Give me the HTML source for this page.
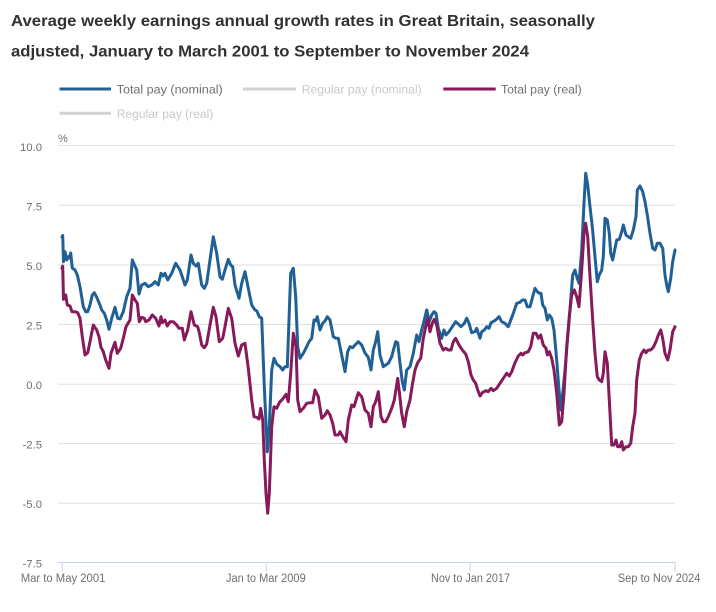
<!DOCTYPE html>
<html>
<head>
<meta charset="utf-8">
<style>
html,body{margin:0;padding:0;background:#fff;}
svg{display:block;}
text{font-family:"Liberation Sans",Arial,sans-serif;}
</style>
</head>
<body>
<svg width="716" height="612" viewBox="0 0 716 612" xmlns="http://www.w3.org/2000/svg">
<rect width="716" height="612" fill="#fff"/>
<!-- Title -->
<text x="11" y="26" font-size="15.5" font-weight="bold" fill="#323132" textLength="584" lengthAdjust="spacingAndGlyphs">Average weekly earnings annual growth rates in Great Britain, seasonally</text>
<text x="11" y="56.5" font-size="15.5" font-weight="bold" fill="#323132" textLength="518" lengthAdjust="spacingAndGlyphs">adjusted, January to March 2001 to September to November 2024</text>

<!-- Legend -->
<line x1="59.5" y1="89" x2="111" y2="89" stroke="#206095" stroke-width="3"/>
<text x="116.7" y="93.5" font-size="12.3" fill="#707071" textLength="106" lengthAdjust="spacingAndGlyphs">Total pay (nominal)</text>
<line x1="243" y1="89" x2="296" y2="89" stroke="#d2d2d2" stroke-width="3"/>
<text x="301.7" y="93.5" font-size="12.3" fill="#c9c9c9" textLength="120" lengthAdjust="spacingAndGlyphs">Regular pay (nominal)</text>
<line x1="443.3" y1="89" x2="495.7" y2="89" stroke="#871a5b" stroke-width="3"/>
<text x="501" y="93.5" font-size="12.3" fill="#707071" textLength="80.7" lengthAdjust="spacingAndGlyphs">Total pay (real)</text>
<line x1="59.5" y1="113.3" x2="111" y2="113.3" stroke="#d2d2d2" stroke-width="3"/>
<text x="116.7" y="117.8" font-size="12.3" fill="#c9c9c9" textLength="96.6" lengthAdjust="spacingAndGlyphs">Regular pay (real)</text>

<!-- % unit -->
<text x="58" y="142" font-size="11" fill="#707071">%</text>

<!-- Gridlines -->
<g stroke="#e0e0e0" stroke-width="1">
<line x1="58.3" y1="145.5" x2="675" y2="145.5"/>
<line x1="58.3" y1="205.3" x2="675" y2="205.3"/>
<line x1="58.3" y1="265" x2="675" y2="265"/>
<line x1="58.3" y1="324.5" x2="675" y2="324.5"/>
<line x1="58.3" y1="384.3" x2="675" y2="384.3"/>
<line x1="58.3" y1="443.5" x2="675" y2="443.5"/>
<line x1="58.3" y1="503.3" x2="675" y2="503.3"/>
</g>

<!-- Y labels -->
<g font-size="11.3" fill="#707071" text-anchor="end">
<text x="42" y="151">10.0</text>
<text x="42" y="210.3">7.5</text>
<text x="42" y="269.8">5.0</text>
<text x="42" y="329.3">2.5</text>
<text x="42" y="389">0.0</text>
<text x="42" y="448.3">-2.5</text>
<text x="42" y="508">-5.0</text>
<text x="42" y="567.5">-7.5</text>
</g>

<!-- X axis -->
<g stroke="#c4d3e6" stroke-width="1">
<line x1="58.3" y1="562.5" x2="675.5" y2="562.5"/>
<line x1="62.3" y1="562.5" x2="62.3" y2="571.5"/>
<line x1="266.3" y1="562.5" x2="266.3" y2="571.5"/>
<line x1="470.3" y1="562.5" x2="470.3" y2="571.5"/>
<line x1="675" y1="562.5" x2="675" y2="571.5"/>
</g>
<g font-size="11.5" fill="#707071">
<text x="20.7" y="582" textLength="84.7" lengthAdjust="spacingAndGlyphs">Mar to May 2001</text>
<text x="226" y="582" textLength="79.7" lengthAdjust="spacingAndGlyphs">Jan to Mar 2009</text>
<text x="431" y="582" textLength="79" lengthAdjust="spacingAndGlyphs">Nov to Jan 2017</text>
<text x="617.7" y="582" textLength="82.7" lengthAdjust="spacingAndGlyphs">Sep to Nov 2024</text>
</g>

<!-- Total pay (nominal) -->
<polyline fill="none" stroke="#206095" stroke-width="3" stroke-linejoin="round" stroke-linecap="round" points="62,237 62.7,235.5 63.5,261.7 65,251.7 66.7,260 68.3,256.7 69.5,258 70.7,253 72.3,268 75,270 77.3,275 80,286.7 83.3,306.7 85.7,311.7 87.7,311.7 90,305 92.3,295 94.3,292.7 96.7,297.3 100,305 101.7,310 104.3,313.3 106.7,320 109,329.3 111.7,318.3 115,307.3 117.7,318.3 120,319 123.3,311.7 126.7,296.7 130,288.3 132.3,260 136.7,270 139,294 141.7,285 145,283.3 148.3,286.7 151.7,285 155,281.7 158.3,285 161,273.3 163,276 165,273.3 167.7,280 171.7,273.3 175.7,263.3 180,270 185,285 187.3,280 191,255 193.3,263.3 196,266 198.3,263.3 201.7,285 204.3,288.3 206.7,283.3 210,260 213.3,236.7 216.7,253.3 220,276.7 222.3,279.3 225,270 228.3,259.3 230.7,265 232.7,266.7 235,285 239,298.3 241.7,283.3 245,271.7 248.3,288.3 251.7,305 255,310 256.7,310.7 259.3,316.7 261.7,318.3 264.3,386.7 267.3,451.7 269.3,426.7 271.7,370 274,358.3 276.7,364 280,366.7 282.7,370 285,366.7 287.3,366.7 290.7,273.3 293.3,268.3 295.7,296.7 297.7,346.7 300,358.3 303.3,353.3 306.7,346.7 309,341.7 311.7,338.3 314,320 315.7,321 317.3,316.7 320,330 322.7,323.3 325,321 327.3,316.7 330,320 333.3,336.7 336,338.3 338.3,338.3 341.7,355 345,371.7 347.7,351.7 350,346.7 352.7,347.7 355,345 358.3,341.7 361.7,345 365,353 368.3,357.3 371,370 373.3,350 375.7,341.7 377.7,331.7 380,355 383.3,366.7 385.7,365 388.3,363.3 391.7,356.7 394.3,346.7 395.7,341.7 397.7,342.7 400,363.3 402.3,381.7 404.3,390 406.7,370 410,366.7 413.3,353.3 416.7,335 419,341.7 421.7,330 424.3,320 426.7,310 429.3,321.7 431.7,315 434,311.7 436,313.3 438.3,328.3 441.7,338.3 444,330 446,335 449,331.7 452.3,326.7 455.7,321.7 458.3,324 461,326.7 464.3,323.3 466.7,318.3 469,323.3 471.7,332.7 475,331.7 476.7,328.3 480,338.3 481.7,331.7 484.3,330 486.7,326.7 489,328.3 491,322.7 493.3,321.5 495.7,320 499,316.7 501.7,321.7 505,323.3 508.3,326.7 511,319.3 513.3,313.3 516.7,303.3 520,302.3 522.3,300 525,300 527.3,306.7 530,306.7 532.7,296.7 535,288.3 537.3,291.7 539.3,293.3 541,293.3 542.7,305 545,308.3 547.3,320 549.3,315 551.7,318.3 554,330 556.7,360 559,390 560.7,410 562.7,393.3 565,370 568.3,330 570.7,300 572.7,275 575,270 576.7,276.7 579,283.3 581.7,250 584,203.3 585.7,173.3 587.7,185 590,206.7 592.3,226.7 595,256.7 597.3,281.7 599.3,275 601.7,270 603.3,256.7 605,218.3 607.3,220 609.3,233.3 610.7,253.3 612.7,260 615,248.3 616.7,240 619.3,239.3 621.7,231.7 623.3,225 626,235 628.3,236.7 630.7,238.3 633.3,230 636,216.7 637.3,190 640,186 642.7,191.7 645,201.7 647.3,215 650,233.3 652.7,248.3 655,250 657.3,243.3 660,243.3 662.7,248.3 665,275 666.7,285 668.3,291.7 670.7,278.3 672.7,261.7 675,250"/>

<!-- Total pay (real) -->
<polyline fill="none" stroke="#871a5b" stroke-width="3" stroke-linejoin="round" stroke-linecap="round" points="62,268.3 62.7,266 63.5,299.3 65.7,295 67.3,305 70,306 72,311.7 75,311.7 77.7,312.7 80,318.3 82.3,336.7 85,355 87.7,352.7 90,341.7 93.3,325 96.7,330 99,336.7 101,347.3 103.3,351.7 105.7,360 109,368.3 111,353.3 115,342.3 117.3,353.3 120.7,348.3 123.3,338.3 126,326.7 130,320 132.3,295 135,300 137.3,303.3 139.3,321.7 141.7,317.3 144.3,318.3 145.7,321.7 149,320 152.3,315 155.7,318.3 159,326 161,316.7 162.3,322.7 165,320 167.3,326 170,321.7 173.3,321.7 176.7,325 179,328.3 182.3,328.3 184.3,340 187.7,330 191,311.7 194.3,325 197.7,326.7 199.3,332.7 201.7,345 204.3,347.7 206.7,344 210,325 213.3,307.3 216,316.7 219.3,341.7 222.7,338.3 225,326.7 228.3,308.3 231.7,318.3 235,343.3 238.3,356 241.7,345 245,343.3 248.3,368.3 251.7,400 254,416.7 256.7,417.3 259,419 260.7,408.3 262.7,420 264.3,460 266,493.3 267.7,513.3 269.3,493.3 271.7,426.7 274,406.7 276.7,408.3 279.3,402.7 282.7,399 286,394.3 288.3,401.7 290.7,373.3 293.3,333.3 296,346.7 297.7,400 300,411.7 303.3,408.3 306.7,403.3 310,402.7 312.7,402.7 315,390 318.3,396.7 321.7,418.3 325,415 327.3,410.7 330,415 332.7,423.3 335,435 338.3,435 340,431.7 342.7,436.7 346,441.7 348.3,420 351.7,405 354,406.7 358.3,392.7 361.7,396.7 365,410 368.3,413.3 371,426.7 373.3,406.7 375.7,401.7 378.3,391.7 381,416.7 383.3,421.7 385.7,421.7 388.3,416.7 391.7,408.3 394.3,400 396.7,385 397.7,378.3 399.3,391.7 401.7,413.3 404.3,426.7 406.7,411.7 410,400 412.3,385 415,370 417.7,362.7 420.7,358.3 423.3,338.3 425.7,326.7 427.7,318.3 430,331.7 432.3,323.3 434.3,319.3 436.7,325 440,343.3 443.3,350 445.7,348.3 448.3,350 451,350 453.3,341.7 455.7,338.3 459,345 462.3,350 465.7,354 468.3,361.7 471,375 473.3,380 475.7,383.3 477.7,390 480,396 482.3,392.7 485.7,390.7 488.3,391.7 491,388.3 493.3,390.7 496.7,388.3 500,383.3 503.3,378.3 506.7,373.3 509.3,376 511.7,371.7 515,362.7 518.3,356 521,353.3 522.7,355 525,352.7 528.3,351.7 530.7,346.7 533.3,333.3 536,333.3 538.3,338.3 540.7,335 543.3,345 546,348.3 547.3,355 549.3,351.7 551.7,358.3 554,370 556.7,393.3 559.3,425 561.7,421.7 564,393.3 566.7,346.7 569.3,316.7 571.7,295 574.3,290 576.7,296.7 579,306.7 581.7,270 584,233.3 585.7,223.3 587.7,236.7 590,276.7 592.7,320 595,353.3 597.3,376.7 599.3,380 601.7,381.7 603.3,373.3 605,351.7 607.3,363.3 609.3,400 611.7,445 614,445 616,440 617.7,446.7 620,446.7 621.7,441.7 623.3,450 626,446.7 628.3,446.7 630.7,443.3 632.7,426.7 635,413.3 636.7,380 639.3,360 641.7,353.3 644,350 646,352.7 648.3,350 650.7,350 653.3,347.3 656,341.7 658.3,335 660.7,330 662.7,338.3 665,353.3 667.7,360 670,350 672.7,331.7 675,326.7"/>
</svg>
</body>
</html>
